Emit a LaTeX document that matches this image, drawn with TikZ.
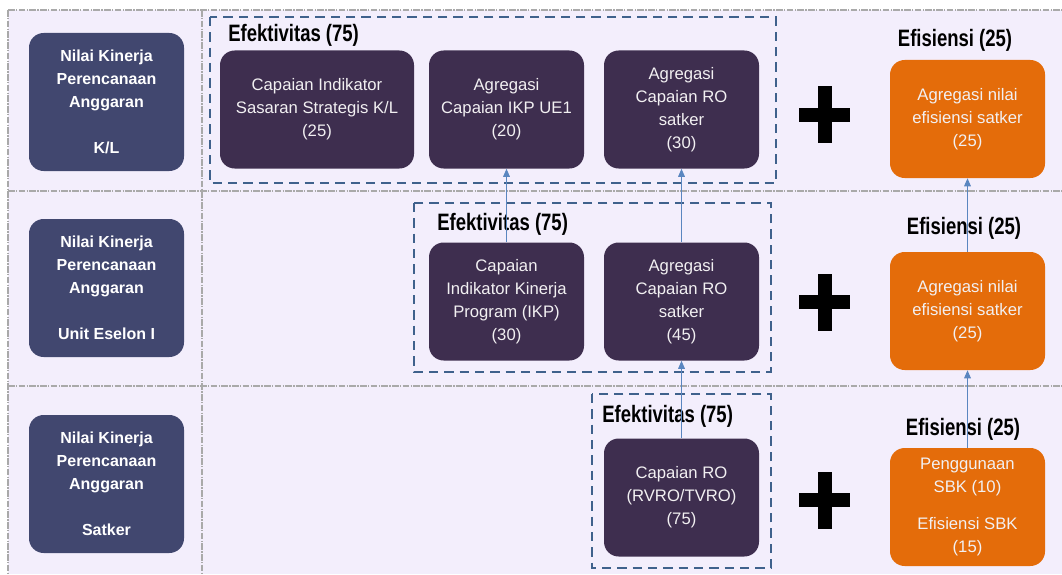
\documentclass[tikz,border=0pt]{standalone}
\usepackage{fontspec}
\setmainfont{Liberation Sans}
\newfontfamily\headfont[FakeStretch=0.78]{Liberation Sans}
\usetikzlibrary{arrows.meta}
\definecolor{bglav}{HTML}{F3EEFC}
\definecolor{gridgray}{HTML}{A9A9A9}
\definecolor{leftbox}{HTML}{41476F}
\definecolor{purplebox}{HTML}{3E2E4F}
\definecolor{orangebox}{HTML}{E46C0A}
\definecolor{dashblue}{HTML}{3F618C}
\definecolor{arrowblue}{HTML}{5A86C0}
\definecolor{boxtext}{HTML}{F2F0F2}
\tikzset{
  gridline/.style={draw=gridgray, line width=0.9pt, dash pattern=on 5pt off 1pt on 1pt off 1pt},
  levelbox/.style={fill=leftbox, rounded corners=11pt, minimum width=116.25pt, minimum height=103.5pt,
    text=white, font=\fontsize{12}{17.25}\selectfont\bfseries, align=center, inner sep=0pt},
  effbox/.style={fill=purplebox, rounded corners=11pt, minimum width=116.25pt, minimum height=88.5pt,
    text=boxtext, font=\fontsize{12.5}{17.25}\selectfont, align=center, inner sep=0pt},
  effibox/.style={fill=orangebox, rounded corners=11pt, minimum width=116.25pt, minimum height=88.5pt,
    text=boxtext, font=\fontsize{12.5}{17.25}\selectfont, align=center, inner sep=0pt},
  groupframe/.style={draw=dashblue, line width=1.9pt, dash pattern=on 7pt off 4.5pt},
  headlabel/.style={font=\headfont\fontsize{17.8}{20}\selectfont\bfseries, text=black, inner sep=0pt},
  linkarrow/.style={draw=arrowblue, line width=0.8pt, -{Triangle[length=6pt,width=5pt]}},
}
\begin{document}
\begin{tikzpicture}[x=0.75pt,y=-0.75pt]
\useasboundingbox (0,0) rectangle (1062,574);
\fill[white] (0,0) rectangle (1062,574);
\fill[bglav] (8,10) rectangle (1062,574);
% grid lines
\draw[gridline] (8,10) -- (1062,10);
\draw[gridline] (8,191) -- (1062,191);
\draw[gridline] (8,386) -- (1062,386);
\draw[gridline] (8,10) -- (8,574);
\draw[gridline] (202,10) -- (202,574);

% level boxes
\node[levelbox] (kl) at (106.5,102) {Nilai Kinerja\\Perencanaan\\Anggaran\\[17.25pt]K/L};
\node[levelbox] (ue) at (106.5,288) {Nilai Kinerja\\Perencanaan\\Anggaran\\[17.25pt]Unit Eselon I};
\node[levelbox] (sk) at (106.5,484) {Nilai Kinerja\\Perencanaan\\Anggaran\\[17.25pt]Satker};

% group frames
\draw[groupframe] (210,17) rectangle (776,183);
\draw[groupframe] (414,203) rectangle (771,372);
\draw[groupframe] (592,394) rectangle (771,568);

% headings
\node[headlabel, anchor=base west] (h1) at (228,42) {Efektivitas (75)};
\node[headlabel, anchor=base west] (h2) at (437,230) {Efektivitas (75)};
\node[headlabel, anchor=base west] (h3) at (602,422) {Efektivitas (75)};
\node[headlabel, anchor=base] (f1) at (955,47) {Efisiensi (25)};
\node[headlabel, anchor=base] (f2) at (964,234) {Efisiensi (25)};
\node[headlabel, anchor=base] (f3) at (963,435) {Efisiensi (25)};

% effectiveness boxes
\node[effbox, minimum width=145.5pt] (a1) at (317,109.5) {Capaian Indikator\\Sasaran Strategis K/L\\(25)};
\node[effbox] (a2) at (506.5,109.5) {Agregasi\\Capaian IKP UE1\\(20)};
\node[effbox] (a3) at (681.5,109.5) {Agregasi\\Capaian RO\\satker\\(30)};
\node[effbox] (b1) at (506.5,301.5) {Capaian\\Indikator Kinerja\\Program (IKP)\\(30)};
\node[effbox] (b2) at (681.5,301.5) {Agregasi\\Capaian RO\\satker\\(45)};
\node[effbox] (c1) at (681.5,497.5) {Capaian RO\\(RVRO/TVRO)\\(75)};

% efficiency boxes
\node[effibox] (o1) at (967.5,119) {Agregasi nilai\\efisiensi satker\\(25)};
\node[effibox] (o2) at (967.5,311) {Agregasi nilai\\efisiensi satker\\(25)};
\node[effibox] (o3) at (967.5,507) {Penggunaan\\SBK (10)\\[10.5pt]Efisiensi SBK\\(15)};

% plus signs
\foreach \py in {115,302,500}{
  \fill[black] (799,\py-7) rectangle (850,\py+7);
  \fill[black] (817.5,\py-28.5) rectangle (831.5,\py+28.5);
}

% connectors
\draw[linkarrow] (b1.north) -- (b1.north |- a2.south);
\draw[linkarrow] (b2.north) -- (a3.south);
\draw[linkarrow] (c1.north) -- (b2.south);
\draw[linkarrow] (o2.north) -- (o1.south);
\draw[linkarrow] (o3.north) -- (o2.south);
\end{tikzpicture}
\end{document}
